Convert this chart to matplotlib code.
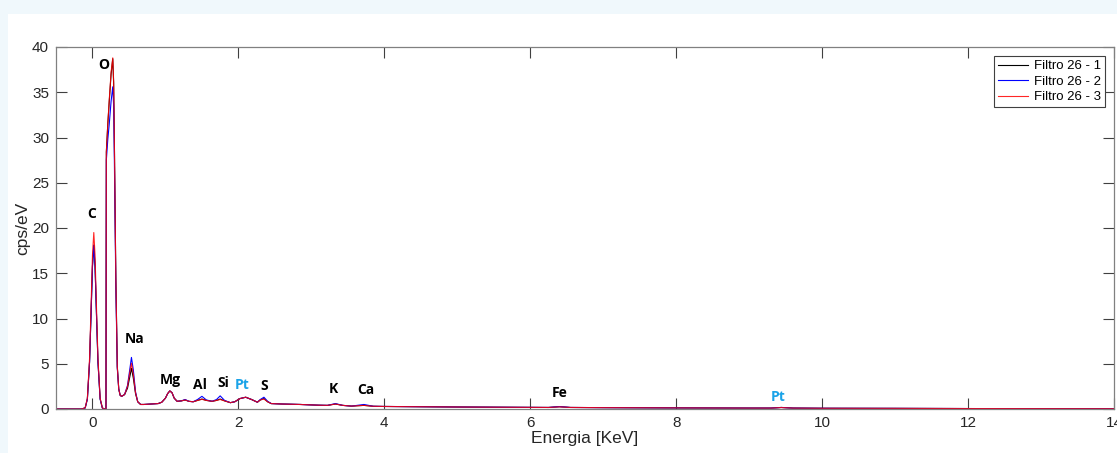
import matplotlib
matplotlib.use("Agg")
from matplotlib import pyplot as plt
from matplotlib.patches import Rectangle

# energy axis (keV) shared by the three spectra
energy = [-0.50, -0.15, -0.10, -0.07, -0.04, -0.02, 0.00, 0.018, 0.035, 0.055,
          0.075, 0.105, 0.135, 0.16, 0.185, 0.19, 0.21, 0.23, 0.255, 0.278,
          0.29, 0.30, 0.32, 0.34, 0.36, 0.38, 0.40, 0.44, 0.48, 0.51,
          0.534, 0.56, 0.59, 0.62, 0.66, 0.70, 0.80, 0.90, 0.95, 1.00,
          1.03, 1.06, 1.09, 1.12, 1.16, 1.22, 1.27, 1.32, 1.38, 1.44,
          1.50, 1.56, 1.64, 1.70, 1.75, 1.81, 1.89, 1.95, 2.02, 2.10,
          2.18, 2.26, 2.30, 2.35, 2.40, 2.45, 2.60, 2.85, 3.10, 3.22,
          3.33, 3.43, 3.55, 3.72, 3.85, 4.00, 4.50, 5.00, 5.50, 6.00,
          6.25, 6.40, 6.55, 7.00, 8.00, 9.00, 9.30, 9.44, 9.60, 10.0,
          11.0, 12.0, 13.0, 14.0]

filtro_1 = [0, 0, 0.12, 1.1, 5.2, 10.4, 15.8, 18.1, 15.8, 10.4,
            5.2, 1.1, 0.12, 0, 0, 28.4, 31.5, 34.0, 37.0, 38.7,
            36.0, 29.5, 14.5, 4.7, 2.2, 1.5, 1.4, 1.6, 2.3, 3.5,
            4.5, 3.4, 1.7, 0.8, 0.5, 0.5, 0.55, 0.6, 0.75, 1.2,
            1.7, 2.0, 1.8, 1.2, 0.85, 0.9, 1.0, 0.85, 0.8, 0.95,
            1.1, 0.95, 0.85, 0.95, 1.1, 0.9, 0.7, 0.8, 1.15, 1.3,
            1.05, 0.75, 1.0, 1.15, 0.8, 0.6, 0.55, 0.5, 0.42, 0.4,
            0.55, 0.4, 0.32, 0.4, 0.3, 0.28, 0.25, 0.22, 0.2, 0.18,
            0.17, 0.25, 0.17, 0.15, 0.12, 0.1, 0.1, 0.17, 0.1, 0.08,
            0.07, 0.05, 0.04, 0.03]

filtro_2 = [0, 0, 0.12, 1.1, 5.2, 10.4, 15.8, 18.1, 15.8, 10.4,
            5.2, 1.1, 0.12, 0, 0, 27.5, 29.8, 31.5, 34.0, 35.6,
            33.5, 27.5, 13.5, 4.5, 2.2, 1.5, 1.4, 1.6, 2.6, 4.3,
            5.7, 4.3, 1.9, 0.8, 0.5, 0.5, 0.55, 0.6, 0.75, 1.2,
            1.7, 2.0, 1.8, 1.2, 0.85, 0.9, 1.05, 0.85, 0.8, 1.05,
            1.4, 1.0, 0.85, 1.05, 1.45, 0.95, 0.7, 0.8, 1.15, 1.3,
            1.05, 0.75, 1.05, 1.3, 0.85, 0.6, 0.55, 0.5, 0.42, 0.4,
            0.6, 0.4, 0.32, 0.5, 0.3, 0.28, 0.25, 0.22, 0.2, 0.18,
            0.17, 0.27, 0.17, 0.15, 0.12, 0.1, 0.1, 0.17, 0.1, 0.08,
            0.07, 0.05, 0.04, 0.03]

filtro_3 = [0, 0, 0.13, 1.2, 5.6, 11.2, 17.0, 19.5, 17.0, 11.2,
            5.6, 1.2, 0.13, 0, 0, 28.4, 31.5, 34.2, 37.2, 38.8,
            36.2, 29.5, 14.5, 4.7, 2.2, 1.5, 1.4, 1.6, 2.5, 4.0,
            5.05, 3.8, 1.8, 0.8, 0.5, 0.5, 0.55, 0.6, 0.75, 1.2,
            1.7, 2.0, 1.8, 1.2, 0.85, 0.9, 1.0, 0.85, 0.8, 0.95,
            1.07, 0.95, 0.85, 0.95, 1.05, 0.9, 0.7, 0.8, 1.15, 1.3,
            1.05, 0.75, 1.0, 1.1, 0.8, 0.6, 0.55, 0.5, 0.42, 0.4,
            0.55, 0.4, 0.32, 0.4, 0.3, 0.28, 0.25, 0.22, 0.2, 0.18,
            0.17, 0.24, 0.17, 0.15, 0.12, 0.1, 0.1, 0.16, 0.1, 0.08,
            0.07, 0.05, 0.04, 0.03]

series_names = ["Filtro 26 - 1", "Filtro 26 - 2", "Filtro 26 - 3"]

# element labels: name, energy, height, colour
elements = ["O", "C", "Na", "Mg", "Al", "Si", "Pt", "S", "K", "Ca", "Fe", "Pt"]
elem_x = [0.15, -0.01, 0.575, 1.07, 1.48, 1.79, 2.05, 2.36, 3.30, 3.75, 6.40, 9.40]
elem_y = [38.0, 21.5, 7.7, 3.2, 2.65, 2.9, 2.65, 2.5, 2.2, 2.1, 1.77, 1.33]
elem_colors = ["black", "black", "black", "black", "black", "black", "#1aa3e8",
               "black", "black", "black", "black", "#1aa3e8"]

plt.rcParams['font.family'] = ['Liberation Sans', 'DejaVu Sans']

fig = plt.figure(figsize=(11.17, 4.53), dpi=100, facecolor="#f0f8fc")
# white panel behind the plot (light frame on the left and top)
fig.patches.append(Rectangle((8 / 1117, 0), 1, 1 - 14 / 453, transform=fig.transFigure,
                             facecolor="white", edgecolor="none", zorder=-5))
ax = fig.add_axes([56 / 1117, 1 - 409 / 453, (1114 - 56) / 1117, (409 - 47) / 453])
ax.set_zorder(2)

ax.plot(energy, filtro_1, color="black", lw=0.8, label=series_names[0])
ax.plot(energy, filtro_2, color="#0000ff", lw=0.8, label=series_names[1])
ax.plot(energy, filtro_3, color="#ff0000", lw=0.8, alpha=0.85, label=series_names[2])

for name, x, y, c in zip(elements, elem_x, elem_y, elem_colors):
    ax.text(x, y, name, color=c, fontsize=10, fontweight="bold", family="Open Sans",
            ha="center", va="center")

ax.set_xlim(-0.5, 14)
ax.set_ylim(0, 40)
ax.set_xticks(range(0, 15, 2))
ax.set_yticks(range(0, 41, 5))
ax.tick_params(direction="in", length=8, width=0.8, top=True, right=True,
               labelsize=11, colors="#404040", labelcolor="#262626", pad=5)
for s in ax.spines.values():
    s.set_color("#808080")
    s.set_linewidth(0.9)

ax.set_xlabel("Energia [KeV]", fontsize=12.5, color="#262626", labelpad=1)
ax.set_ylabel("cps/eV", fontsize=12.5, color="#262626", labelpad=1)

leg = ax.legend(loc="upper right", fontsize=9.5, handlelength=2.3, handletextpad=0.4,
                borderaxespad=0.7, fancybox=False, framealpha=1,
                labelspacing=0.25, borderpad=0.3)
leg.get_frame().set_edgecolor("#404040")
leg.get_frame().set_linewidth(0.8)

fig.savefig("out.png", dpi=100, facecolor=fig.get_facecolor())
